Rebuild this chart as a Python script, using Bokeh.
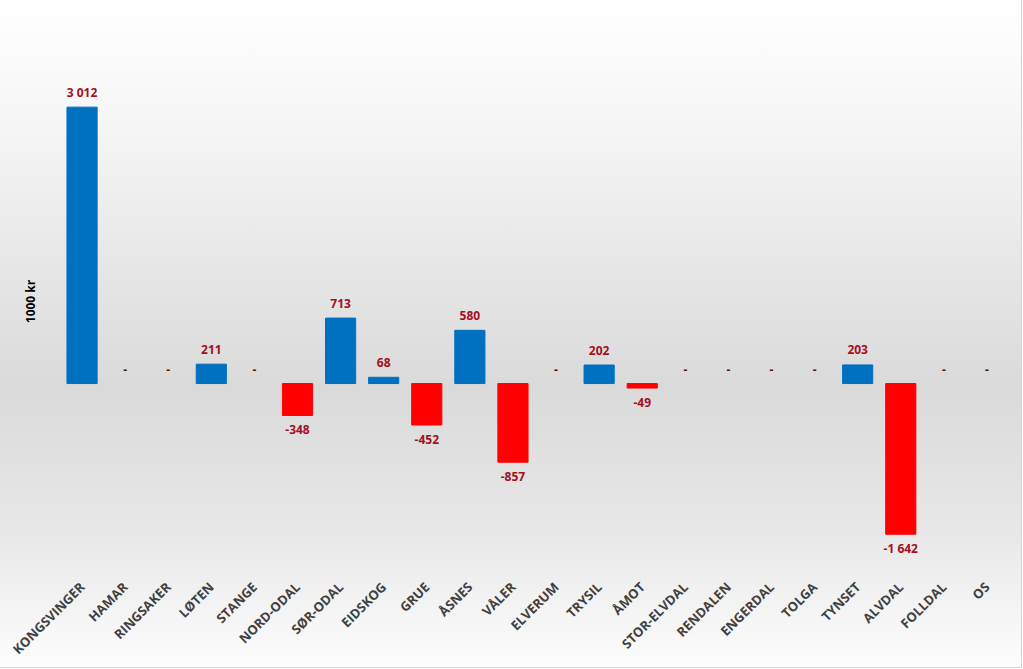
import math
from bokeh.plotting import figure
from bokeh.models import ColumnDataSource, FactorRange, Range1d, FixedTicker
from bokeh.core.properties import value
from bokeh.embed import file_html
from bokeh.resources import INLINE

municipalities = ["KONGSVINGER", "HAMAR", "RINGSAKER", "LØTEN", "STANGE", "NORD-ODAL",
                  "SØR-ODAL", "EIDSKOG", "GRUE", "ÅSNES", "VÅLER", "ELVERUM", "TRYSIL",
                  "ÅMOT", "STOR-ELVDAL", "RENDALEN", "ENGERDAL", "TOLGA", "TYNSET",
                  "ALVDAL", "FOLLDAL", "OS"]
values = [3012, 0, 0, 211, 0, -348, 713, 68, -452, 580, -857, 0, 202, -49, 0, 0, 0, 0,
          203, -1642, 0, 0]


def fmt(v):
    if v == 0:
        return "-"
    s = f"{abs(v):,}".replace(",", " ")
    return ("-" if v < 0 else "") + s


nz = [(m, v) for m, v in zip(municipalities, values) if v != 0]
bars = ColumnDataSource(dict(x=[m for m, _ in nz], top=[v for _, v in nz],
                             color=["#0070C0" if v > 0 else "#FF0000" for _, v in nz]))

labels = [fmt(v) for v in values]
offsets = [14 if v < 0 else (-15 if v > 0 else -14) for v in values]
label_colors = ["#A50F1E" if v != 0 else "#4a1010" for v in values]
lab = ColumnDataSource(dict(x=municipalities, y=values, label=labels, yoff=offsets, lc=label_colors))

p = figure(width=1021, height=667, output_backend="svg", toolbar_location=None,
           x_range=FactorRange(factors=municipalities, range_padding=0),
           y_range=Range1d(-1950, 3738),
           min_border_left=60, min_border_right=13, min_border_top=40, min_border_bottom=102)

p.vbar(x="x", top="top", bottom=0, width=0.7, color="color", source=bars)
p.text(x="x", y="y", text="label", y_offset="yoff", source=lab,
       text_align="center", text_baseline="middle", text_color="lc",
       text_font=value("Open Sans"), text_font_style="bold", text_font_size="12px")

p.border_fill_alpha = 0
p.background_fill_alpha = 0
p.outline_line_color = None
p.grid.visible = False
p.styles = {"background": "linear-gradient(to bottom, #ffffff 0%, #f6f6f6 18%, #dadada 58%, #e8e8e8 80%, #fdfdfd 100%)",
            "outline": "1px solid #d4d4d4"}

xa = p.xaxis[0]
xa.axis_line_color = None
xa.major_tick_line_color = None
xa.minor_tick_line_color = None
xa.major_label_orientation = math.pi / 4
xa.major_label_standoff = 16
xa.major_label_text_font = "Open Sans"
xa.major_label_text_font_style = "bold"
xa.major_label_text_font_size = "13px"
xa.major_label_text_color = "#404040"

ya = p.yaxis[0]
ya.ticker = FixedTicker(ticks=[])
ya.axis_line_color = None
ya.major_tick_line_color = None
ya.minor_tick_line_color = None
ya.axis_label = "1000 kr"
ya.axis_label_text_font = "Open Sans"
ya.axis_label_text_font_style = "bold"
ya.axis_label_text_font_size = "12px"
ya.axis_label_text_color = "#000000"
ya.axis_label_standoff = 22

open("out.html", "w").write(file_html(p, INLINE))
